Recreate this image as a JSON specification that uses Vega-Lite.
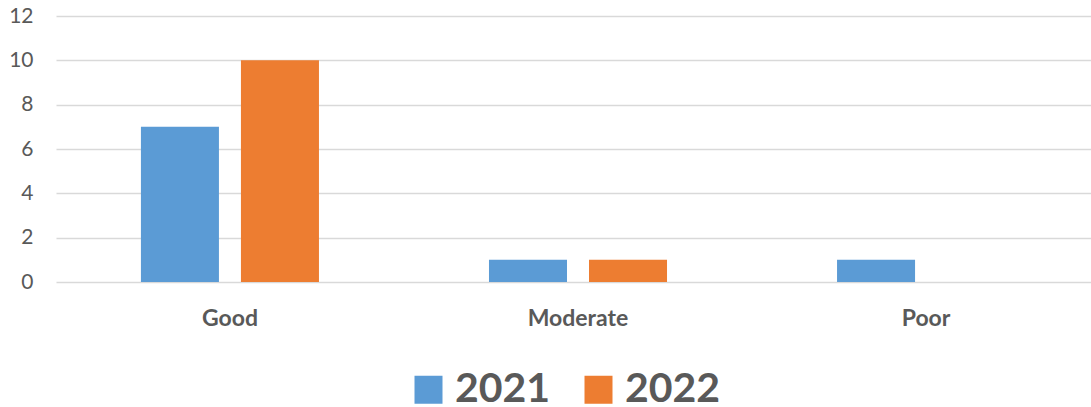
{
  "$schema": "https://vega.github.io/schema/vega-lite/v6.json",
  "width": 1044,
  "height": 266,
  "autosize": {"type": "none"},
  "padding": {"left": 56, "top": 16, "right": 0, "bottom": 125},
  "background": "white",
  "config": {
    "view": {"stroke": null},
    "font": "Lato"
  },
  "data": {
    "values": [
      {"category": "Good", "year": "2021", "value": 7},
      {"category": "Good", "year": "2022", "value": 10},
      {"category": "Moderate", "year": "2021", "value": 1},
      {"category": "Moderate", "year": "2022", "value": 1},
      {"category": "Poor", "year": "2021", "value": 1},
      {"category": "Poor", "year": "2022", "value": 0}
    ]
  },
  "mark": {"type": "bar"},
  "encoding": {
    "x": {
      "field": "category",
      "type": "nominal",
      "sort": ["Good", "Moderate", "Poor"],
      "scale": {"paddingInner": 0.4885, "paddingOuter": 0.244},
      "axis": {
        "title": null,
        "labelAngle": 0,
        "domain": false,
        "ticks": false,
        "labelFont": "Lato",
        "labelFontWeight": "bold",
        "labelFontSize": 23,
        "labelColor": "#595959",
        "labelPadding": 25,
        "labelBaseline": "top"
      }
    },
    "xOffset": {
      "field": "year",
      "type": "nominal",
      "scale": {"paddingInner": 0.22, "paddingOuter": 0}
    },
    "y": {
      "field": "value",
      "type": "quantitative",
      "scale": {"domain": [0, 12]},
      "axis": {
        "title": null,
        "values": [0, 2, 4, 6, 8, 10, 12],
        "domain": false,
        "ticks": false,
        "labelFont": "Lato",
        "labelFontSize": 21,
        "labelColor": "#595959",
        "labelPadding": 23,
        "gridColor": "#D9D9D9",
        "gridWidth": 1.5
      }
    },
    "color": {
      "field": "year",
      "type": "nominal",
      "scale": {"domain": ["2021", "2022"], "range": ["#5B9BD5", "#ED7D31"]},
      "legend": {
        "title": null,
        "orient": "none",
        "legendX": 352,
        "legendY": 353,
        "direction": "horizontal",
        "symbolType": "square",
        "symbolSize": 784,
        "symbolStrokeWidth": 0,
        "symbolOpacity": 1,
        "labelFont": "Lato",
        "labelFontSize": 41,
        "labelFontWeight": "bold",
        "labelColor": "#595959",
        "labelOffset": 6,
        "columnPadding": 27
      }
    }
  }
}
